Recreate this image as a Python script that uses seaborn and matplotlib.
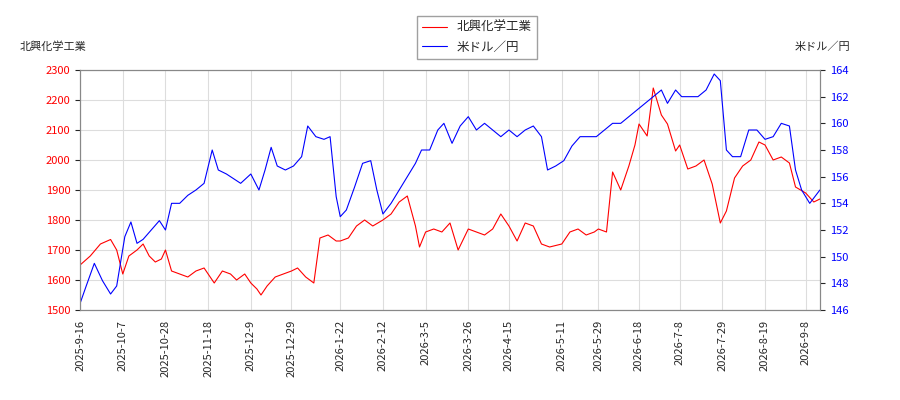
import pandas as pd
import numpy as np
import matplotlib
matplotlib.use('Agg')
import matplotlib.pyplot as plt
import matplotlib.dates as mdates
import seaborn as sns

# Red series: 北興化学工業 (left axis)
stock_dates = ['2025-09-16','2025-09-21','2025-09-26','2025-10-01','2025-10-04','2025-10-07','2025-10-10','2025-10-14',
    '2025-10-17','2025-10-20','2025-10-23','2025-10-26','2025-10-28','2025-10-31','2025-11-04','2025-11-08','2025-11-12',
    '2025-11-16','2025-11-18','2025-11-21','2025-11-25','2025-11-29','2025-12-02','2025-12-06','2025-12-09','2025-12-12',
    '2025-12-14','2025-12-17','2025-12-21','2025-12-25','2025-12-29','2026-01-01','2026-01-05','2026-01-09','2026-01-12',
    '2026-01-16','2026-01-20','2026-01-22','2026-01-26','2026-01-30','2026-02-03','2026-02-07','2026-02-12','2026-02-16',
    '2026-02-20','2026-02-24','2026-02-28','2026-03-02','2026-03-05','2026-03-09','2026-03-13','2026-03-17','2026-03-21',
    '2026-03-26','2026-03-30','2026-04-03','2026-04-07','2026-04-11','2026-04-15','2026-04-19','2026-04-23','2026-04-27',
    '2026-05-01','2026-05-05','2026-05-11','2026-05-15','2026-05-19','2026-05-23','2026-05-27','2026-05-29','2026-06-02',
    '2026-06-05','2026-06-09','2026-06-13','2026-06-16','2026-06-18','2026-06-22','2026-06-25','2026-06-29','2026-07-02',
    '2026-07-06','2026-07-08','2026-07-12','2026-07-16','2026-07-20','2026-07-24','2026-07-28','2026-07-31','2026-08-04',
    '2026-08-08','2026-08-12','2026-08-16','2026-08-19','2026-08-23','2026-08-27','2026-08-31','2026-09-03','2026-09-08',
    '2026-09-12','2026-09-15']
stock_values = [1650,1680,1720,1735,1700,1620,1680,1700,1720,1680,1660,1670,1700,1630,1620,1610,1630,1640,1620,1590,
    1630,1620,1600,1620,1590,1570,1550,1580,1610,1620,1630,1640,1610,1590,1740,1750,1730,1730,1740,1780,1800,1780,1800,
    1820,1860,1880,1780,1710,1760,1770,1760,1790,1700,1770,1760,1750,1770,1820,1780,1730,1790,1780,1720,1710,1720,1760,
    1770,1750,1760,1770,1760,1960,1900,1980,2050,2120,2080,2240,2150,2120,2030,2050,1970,1980,2000,1920,1790,1830,1940,
    1980,2000,2060,2050,2000,2010,1990,1910,1890,1860,1870]

# Blue series: 米ドル／円 (right axis)
fx_dates = ['2025-09-16','2025-09-19','2025-09-23','2025-09-27','2025-10-01','2025-10-04','2025-10-08','2025-10-11',
    '2025-10-14','2025-10-17','2025-10-21','2025-10-25','2025-10-28','2025-10-31','2025-11-04','2025-11-08','2025-11-12',
    '2025-11-16','2025-11-20','2025-11-23','2025-11-27','2025-12-01','2025-12-04','2025-12-09','2025-12-13','2025-12-16',
    '2025-12-19','2025-12-22','2025-12-26','2025-12-30','2026-01-03','2026-01-06','2026-01-10','2026-01-14','2026-01-17',
    '2026-01-20','2026-01-22','2026-01-25','2026-01-29','2026-02-02','2026-02-06','2026-02-09','2026-02-12','2026-02-16',
    '2026-02-20','2026-02-24','2026-02-28','2026-03-03','2026-03-07','2026-03-11','2026-03-14','2026-03-18','2026-03-22',
    '2026-03-26','2026-03-30','2026-04-03','2026-04-07','2026-04-11','2026-04-15','2026-04-19','2026-04-23','2026-04-27',
    '2026-05-01','2026-05-04','2026-05-08','2026-05-12','2026-05-16','2026-05-20','2026-05-24','2026-05-28','2026-06-01',
    '2026-06-05','2026-06-09','2026-06-13','2026-06-17','2026-06-21','2026-06-25','2026-06-29','2026-07-02','2026-07-06',
    '2026-07-09','2026-07-13','2026-07-17','2026-07-21','2026-07-25','2026-07-28','2026-07-31','2026-08-03','2026-08-07',
    '2026-08-11','2026-08-15','2026-08-19','2026-08-23','2026-08-27','2026-08-31','2026-09-03','2026-09-06','2026-09-10',
    '2026-09-15']
fx_values = [146.5,147.8,149.5,148.2,147.2,147.8,151.5,152.6,151.0,151.3,152.0,152.7,152.0,154.0,154.0,154.6,155.0,
    155.5,158.0,156.5,156.2,155.8,155.5,156.2,155.0,156.5,158.2,156.8,156.5,156.8,157.5,159.8,159.0,158.8,159.0,154.5,
    153.0,153.5,155.2,157.0,157.2,155.0,153.2,154.0,155.0,156.0,157.0,158.0,158.0,159.5,160.0,158.5,159.8,160.5,159.5,
    160.0,159.5,159.0,159.5,159.0,159.5,159.8,159.0,156.5,156.8,157.2,158.3,159.0,159.0,159.0,159.5,160.0,160.0,160.5,
    161.0,161.5,162.0,162.5,161.5,162.5,162.0,162.0,162.0,162.5,163.7,163.2,158.0,157.5,157.5,159.5,159.5,158.8,159.0,
    160.0,159.8,156.5,155.0,154.0,155.0]

tick_dates = ['2025-09-16','2025-10-07','2025-10-28','2025-11-18','2025-12-09','2025-12-29','2026-01-22','2026-02-12',
    '2026-03-05','2026-03-26','2026-04-15','2026-05-11','2026-05-29','2026-06-18','2026-07-08','2026-07-29','2026-08-19',
    '2026-09-08']

sns.set_style('white')
plt.rcParams['font.family'] = ['Noto Sans CJK JP', 'DejaVu Sans']

stock = pd.DataFrame({'date': pd.to_datetime(stock_dates), 'value': stock_values})
fx = pd.DataFrame({'date': pd.to_datetime(fx_dates), 'value': fx_values})

fig, ax = plt.subplots(figsize=(9, 4), dpi=100)
fig.subplots_adjust(left=0.089, right=0.911, top=0.825, bottom=0.225)
ax2 = ax.twinx()

sns.lineplot(data=stock, x='date', y='value', ax=ax, color='red', lw=0.8, label='北興化学工業', legend=False)
sns.lineplot(data=fx, x='date', y='value', ax=ax2, color='blue', lw=0.8, label='米ドル／円', legend=False)

ax.set_ylim(1500, 2300)
ax.set_yticks(range(1500, 2301, 100))
ax2.set_ylim(146, 164)
ax2.set_yticks(range(146, 165, 2))
ax.set_xlim(pd.Timestamp('2025-09-16'), pd.Timestamp('2026-09-15'))
ticks = pd.to_datetime(tick_dates)
ax.set_xticks(ticks)
ax.set_xticklabels([f'{d.year}-{d.month}-{d.day}' for d in ticks], rotation=90, fontsize=8)
ax.tick_params(axis='y', labelsize=8, labelcolor='red')
ax2.tick_params(axis='y', labelsize=8, labelcolor='blue')
ax.set_xlabel('')
ax.set_ylabel('')
ax2.set_ylabel('')
ax.grid(True, color='#dddddd', lw=0.8)
for a in (ax, ax2):
    for s in a.spines.values():
        s.set_color('#888888')

fig.text(0.022, 0.875, '北興化学工業', fontsize=8)
fig.text(0.945, 0.875, '米ドル／円', fontsize=8, ha='right')

h1, l1 = ax.get_legend_handles_labels()
h2, l2 = ax2.get_legend_handles_labels()
fig.legend(h1 + h2, l1 + l2, loc='upper center', bbox_to_anchor=(0.53, 0.975), fontsize=9,
           frameon=True, edgecolor='#888888', fancybox=False)

fig.savefig('out.png')
